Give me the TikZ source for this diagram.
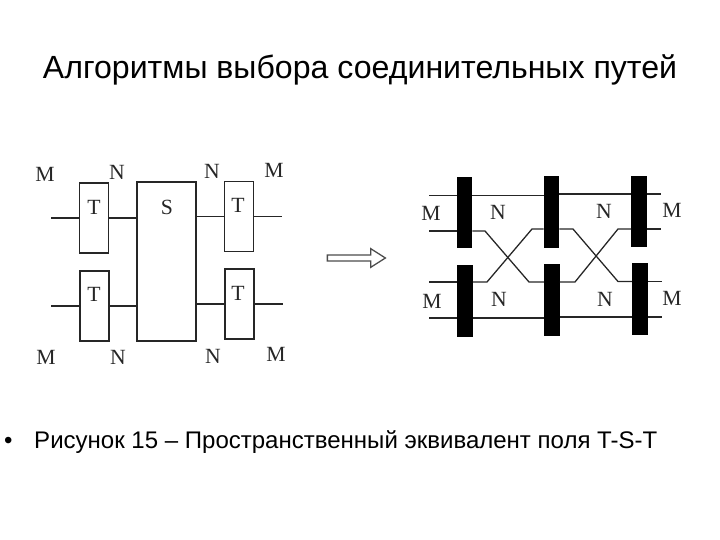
\documentclass[tikz,border=0pt]{standalone}
\usepackage{fontspec}
\setmainfont{Liberation Sans}
\newfontfamily\labelfont{Liberation Serif}
\usetikzlibrary{shapes.arrows}
\tikzset{
  wire/.style={line width=1.1pt, black!85},
  thickwire/.style={line width=1.5pt, black!85},
  tbox/.style={draw, line width=1.5pt, black!85, minimum width=0.87cm, minimum height=2.1cm, inner sep=0pt},
  sbox/.style={draw, line width=1.5pt, black!85, minimum width=1.77cm, minimum height=4.77cm, inner sep=0pt},
  block/.style={fill=black, minimum width=0.46cm, minimum height=2.14cm, inner sep=0pt},
  lett/.style={font=\labelfont\fontsize{18.5}{20}\selectfont, black!85, inner sep=0pt},
  hollow/.style={draw, single arrow, line width=1.1pt, black!70, minimum width=0.56cm, minimum height=1.74cm,
    single arrow head extend=0.04cm, single arrow tip angle=65, inner sep=0pt}
}
\begin{document}
\begin{tikzpicture}[x=0.03cm, y=-0.03cm]
  \useasboundingbox (0,0) rectangle (720,540);

  % Title and caption
  \node[font=\fontsize{27.4}{30}\selectfont, anchor=base] (title) at (360,79) {Алгоритмы выбора соединительных путей};
  \node[font=\fontsize{20.5}{24}\selectfont, anchor=base west, inner sep=0pt] (bullet) at (4,448) {•};
  \node[font=\fontsize{20.5}{24}\selectfont, anchor=base west, inner sep=0pt] (caption) at (34,448) {Рисунок 15 – Пространственный эквивалент поля T-S-T};

  % Left scheme: boxes
  \node[tbox] (T1) at (94,218) {};
  \node[tbox] (T2) at (94.5,306) {};
  \node[sbox] (S) at (166.5,261.5) {};
  \node[tbox] (T3) at (239,216.5) {};
  \node[tbox] (T4) at (239.5,304) {};

  % Left scheme: free ends
  \coordinate (inA) at (51,218);
  \coordinate (inB) at (51,306);
  \coordinate (outA) at (282,216.5);
  \coordinate (outB) at (283,304);

  % Left scheme: wires
  \draw[thickwire] (inA) -- (T1.west);
  \draw[wire] (inB) -- (T2.west);
  \draw[wire] (T1.east) -- (T1.east -| S.west);
  \draw[thickwire] (T2.east) -- (T2.east -| S.west);
  \draw[wire] (T3.west -| S.east) -- (T3.west);
  \draw[thickwire] (T4.west -| S.east) -- (T4.west);
  \draw[thickwire] (T3.east) -- (outA);
  \draw[wire] (T4.east) -- (outB);

  % Left scheme: letters
  \node[lett] (tA) at (94,207) {T};
  \node[lett] (tB) at (94,294) {T};
  \node[lett] (sA) at (167,207) {S};
  \node[lett] (tC) at (238,205) {T};
  \node[lett] (tD) at (238,293) {T};
  \node[lett] (mA) at (45,174) {M};
  \node[lett] (nA) at (117,172) {N};
  \node[lett] (nB) at (212,171) {N};
  \node[lett] (mB) at (274,170) {M};
  \node[lett] (mC) at (46,357) {M};
  \node[lett] (nC) at (118,357) {N};
  \node[lett] (nD) at (213,356) {N};
  \node[lett] (mD) at (276,354) {M};

  % Arrow between the schemes
  \node[hollow] (arrow) at (354,258) {};

  % Right scheme: blocks
  \node[block] (B1) at (464.5,212.5) {};
  \node[block] (B2) at (551.5,212) {};
  \node[block] (B3) at (639,211.5) {};
  \node[block] (B4) at (465,301) {};
  \node[block] (B5) at (552,300) {};
  \node[block] (B6) at (640,299) {};

  % Right scheme: free ends
  \coordinate (leftA) at (429,195.5);
  \coordinate (leftB) at (429,231);
  \coordinate (leftC) at (429,282);
  \coordinate (leftD) at (429,318);
  \coordinate (rightA) at (661,194);
  \coordinate (rightB) at (661,229);
  \coordinate (rightC) at (662,281.5);
  \coordinate (rightD) at (662,317);

  % Right scheme: wires
  \draw[wire] (leftA) -- (leftA -| B1.west);
  \draw[wire] (leftB) -- (leftB -| B1.west);
  \draw[wire] (leftC) -- (leftC -| B4.west);
  \draw[thickwire] (leftD) -- (leftD -| B4.west);
  \draw[wire] (leftA -| B1.east) -- (leftA -| B2.west);
  \draw[thickwire] (rightA -| B2.east) -- (rightA -| B3.west);
  \draw[wire] (rightA -| B3.east) -- (rightA);
  \draw[wire] (rightB -| B3.east) -- (rightB);
  \draw[wire] (rightC -| B6.east) -- (rightC);
  \draw[wire] (rightD -| B6.east) -- (rightD);
  \draw[thickwire] (leftD -| B4.east) -- (leftD -| B5.west);
  \draw[thickwire] (rightD -| B5.east) -- (rightD -| B6.west);

  % Crossings
  \draw[wire] (leftB -| B1.east) -- (485,231) -- (529,282) -- (leftC -| B5.west);
  \draw[wire] (leftC -| B4.east) -- (487,282) -- (532,229) -- (rightB -| B2.west);
  \draw[wire] (rightB -| B2.east) -- (573,229) -- (618,281.5) -- (rightC -| B6.west);
  \draw[wire] (leftC -| B5.east) -- (575,282) -- (618,229) -- (rightB -| B3.west);

  % Right scheme: letters
  \node[lett] (mE) at (431,213) {M};
  \node[lett] (nE) at (498,212) {N};
  \node[lett] (nF) at (604,211) {N};
  \node[lett] (mF) at (672,210) {M};
  \node[lett] (mG) at (432,301) {M};
  \node[lett] (nG) at (499,299) {N};
  \node[lett] (nH) at (605,299) {N};
  \node[lett] (mH) at (672,298) {M};
\end{tikzpicture}
\end{document}
